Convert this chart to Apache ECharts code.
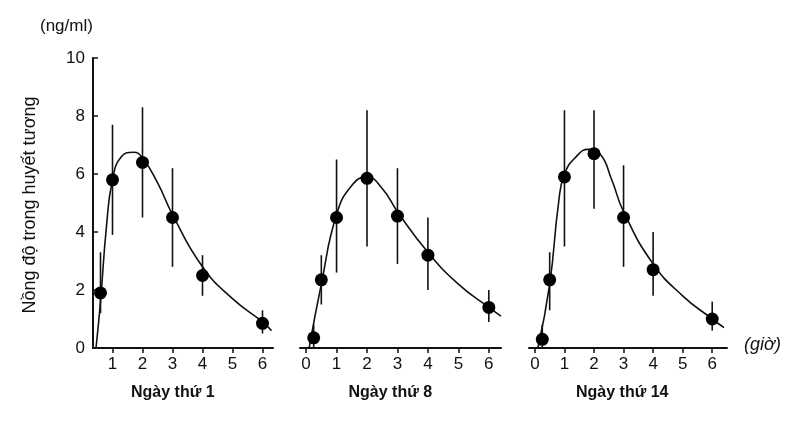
<!DOCTYPE html>
<html><head><meta charset="utf-8">
<script src="https://cdn.jsdelivr.net/npm/echarts@6/dist/echarts.min.js"></script>
<style>body{margin:0;background:#fff}#c{width:800px;height:438px}</style>
</head><body><div id="c"></div>
<script>
// measured points: [hour, mean, low, high]
const day1 = [[0.6,1.9,1.2,3.3],[1,5.8,3.9,7.7],[2,6.4,4.5,8.3],[3,4.5,2.8,6.2],[4,2.5,1.8,3.2],[6,0.85,0.5,1.3]]
const day8 = [[0.25,0.35,0,0.8],[0.5,2.35,1.5,3.2],[1,4.5,2.6,6.5],[2,5.85,3.5,8.2],[3,4.55,2.9,6.2],[4,3.2,2.0,4.5],[6,1.4,0.9,2.0]]
const day14 = [[0.25,0.3,0,0.8],[0.5,2.35,1.3,3.3],[1,5.9,3.5,8.2],[2,6.7,4.8,8.2],[3,4.5,2.8,6.3],[4,2.7,1.8,4.0],[6,1.0,0.6,1.6]]
// fitted curves
const fit1 = [[0.45,0],[0.6,1.6],[0.8,4.2],[1,5.8],[1.3,6.6],[1.7,6.75],[2,6.55],[2.5,5.7],[3,4.6],[4,2.8],[5,1.7],[6,0.9],[6.3,0.6]]
const fit8 = [[0.1,0],[0.5,2.2],[1,4.6],[1.5,5.6],[2,5.9],[2.5,5.5],[3,4.7],[4,3.3],[5,2.2],[6,1.4],[6.4,1.1]]
const fit14 = [[0.1,0],[0.5,2.2],[0.8,5],[1,6.0],[1.4,6.6],[1.8,6.85],[2.2,6.7],[2.6,5.8],[3,4.7],[4,2.9],[5,1.8],[6,1.0],[6.4,0.7]]
const panels = [
  {data: day1, fit: fit1, min: 0.35, max: 6.35, left: 93, width: 180, ticks: [1,2,3,4,5,6], title: 'Ngày thứ 1'},
  {data: day8, fit: fit8, min: -0.2, max: 6.4, left: 300, width: 201, ticks: [0,1,2,3,4,5,6], title: 'Ngày thứ 8'},
  {data: day14, fit: fit14, min: -0.2, max: 6.5, left: 529, width: 198, ticks: [0,1,2,3,4,5,6], title: 'Ngày thứ 14'}
]
const txt = '#111'
const font = 'Liberation Sans'
let grid = [], xAxis = [], yAxis = [], series = [], graphic = []
panels.forEach((p, i) => {
  grid.push({left: p.left, width: p.width, top: 58, height: 290})
  xAxis.push({type: 'value', gridIndex: i, min: p.min, max: p.max,
    axisLine: {lineStyle: {color: txt, width: 2}},
    axisTick: {customValues: p.ticks, length: 5, lineStyle: {color: txt, width: 1.5}},
    axisLabel: {customValues: p.ticks, color: txt, fontSize: 17, fontFamily: font, margin: 8},
    splitLine: {show: false}})
  yAxis.push({type: 'value', gridIndex: i, min: 0, max: 10, interval: 2, show: i === 0,
    axisLine: {show: true, lineStyle: {color: txt, width: 2}},
    axisTick: {show: true, inside: true, length: 5, lineStyle: {color: txt, width: 1.5}},
    axisLabel: {color: txt, fontSize: 17, fontFamily: font, margin: 8},
    splitLine: {show: false}})
  series.push({type: 'line', xAxisIndex: i, yAxisIndex: i, data: p.fit, smooth: true, showSymbol: false,
    lineStyle: {color: txt, width: 1.6}, silent: true})
  series.push({type: 'custom', xAxisIndex: i, yAxisIndex: i, data: p.data,
    renderItem: (params, api) => {
      const a = api.coord([api.value(0), api.value(2)])
      const b = api.coord([api.value(0), api.value(3)])
      return {type: 'line', shape: {x1: a[0], y1: a[1], x2: b[0], y2: b[1]}, style: {stroke: txt, lineWidth: 1.6}}
    }, z: 3})
  series.push({type: 'scatter', xAxisIndex: i, yAxisIndex: i, data: p.data.map(d => [d[0], d[1]]),
    symbolSize: 13, itemStyle: {color: '#000', opacity: 1}, z: 5})
  graphic.push({type: 'text', left: p.left + p.width / 2 - 52, top: 385,
    style: {text: p.title, fill: txt, font: 'bold 16px "Liberation Sans Narrow", "Liberation Sans"'}})
})
graphic.push({type: 'text', left: 40, top: 18, style: {text: '(ng/ml)', fill: txt, font: '17px "Liberation Sans"'}})
graphic.push({type: 'text', left: 744, top: 336, style: {text: '(giờ)', fill: txt, font: 'italic 18px "Liberation Sans"'}})
graphic.push({type: 'text', x: 30, y: 205, rotation: Math.PI / 2,
  style: {text: 'Nồng độ trong huyết tương', fill: txt, font: '18px "Liberation Sans"', align: 'center', verticalAlign: 'middle'}})
const chart = echarts.init(document.getElementById('c'))
chart.setOption({animation: false, grid, xAxis, yAxis, series, graphic})
</script></body></html>
